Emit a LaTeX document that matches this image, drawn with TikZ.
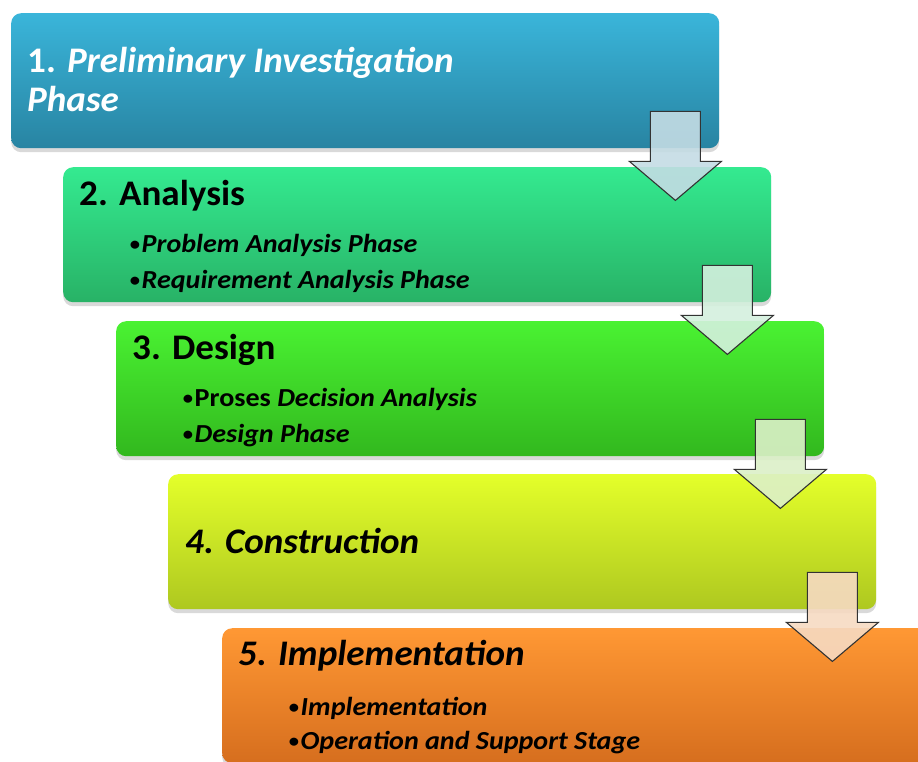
\documentclass[tikz,border=0pt]{standalone}
\usepackage{fontspec}
\setmainfont{Carlito}
\usetikzlibrary{shadows}
\definecolor{c1t}{RGB}{58,181,218}
\definecolor{c1b}{RGB}{40,132,162}
\definecolor{c2t}{RGB}{52,234,144}
\definecolor{c2b}{RGB}{40,178,102}
\definecolor{c3t}{RGB}{74,242,50}
\definecolor{c3b}{RGB}{50,184,30}
\definecolor{c4t}{RGB}{228,255,42}
\definecolor{c4b}{RGB}{174,200,32}
\definecolor{c5t}{RGB}{255,152,52}
\definecolor{c5b}{RGB}{214,110,30}
\definecolor{a1}{RGB}{196,220,228}
\definecolor{a2}{RGB}{212,240,222}
\definecolor{a3}{RGB}{220,240,200}
\definecolor{a4}{RGB}{246,218,194}
\newcommand\mybul{\makebox[12.5pt][c]{\fontsize{19}{20}\selectfont\raisebox{1.5pt}{\textbullet}}}
\begin{document}
\begin{tikzpicture}[x=1pt,y=-1pt,
  phasebox/.style={rounded corners=10pt, minimum width=708pt, minimum height=135pt,
    anchor=north west, inner sep=0pt, draw=none,
    drop shadow={opacity=0.3, shadow xshift=0pt, shadow yshift=-4pt}},
  ttl/.style={anchor=base west, inner sep=0pt, xscale=1.03, transform shape,
    font=\fontsize{36}{40}\selectfont\bfseries},
  bul/.style={anchor=base west, inner sep=0pt, xscale=1.08, transform shape,
    font=\fontsize{26}{28}\selectfont\bfseries},
  blockarrow/.style={draw=black!80, line width=1.1pt, line join=miter, fill opacity=0.9}
]
\useasboundingbox (0,0) rectangle (918,761);
\node[phasebox, top color=c1t, bottom color=c1b] (b1) at (11,13) {};
\node[phasebox, top color=c2t, bottom color=c2b] (b2) at (63,167) {};
\node[phasebox, top color=c3t, bottom color=c3b] (b3) at (116,321) {};
\node[phasebox, top color=c4t, bottom color=c4b] (b4) at (168,474) {};
\node[phasebox, top color=c5t, bottom color=c5b] (b5) at (222,628) {};

% texts
\node[ttl, text=white] (t1a) at (27,72) {1. \textit{Preliminary Investigation}};
\node[ttl, text=white] (t1b) at (27,111) {\textit{Phase}};
\node[ttl] (t2) at (79,205) {2. Analysis};
\node[bul] (t2a) at (128,252) {\mybul\textit{Problem Analysis Phase}};
\node[bul] (t2b) at (128,288) {\mybul\textit{Requirement Analysis Phase}};
\node[ttl] (t3) at (132,359) {3. Design};
\node[bul] (t3a) at (181,406) {\mybul Proses \textit{Decision Analysis}};
\node[bul] (t3b) at (181,442) {\mybul\textit{Design Phase}};
\node[ttl] (t4) at (185,553) {\textit{4. Construction}};
\node[ttl] (t5) at (238,665) {\textit{5. Implementation}};
\node[bul] (t5a) at (287,715) {\mybul\textit{Implementation}};
\node[bul] (t5b) at (287,749) {\mybul\textit{Operation and Support Stage}};

% block arrows between boxes
\foreach \b/\c in {b1/a1,b2/a2,b3/a3,b4/a4}{
  \begin{scope}[shift={(\b.south east)}]
    \draw[blockarrow, fill=\c] (-69,-37) -- (-19,-37) -- (-19,13) -- (2,13)
      -- (-44,52) -- (-90,13) -- (-69,13) -- cycle;
  \end{scope}
}
\end{tikzpicture}
\end{document}
